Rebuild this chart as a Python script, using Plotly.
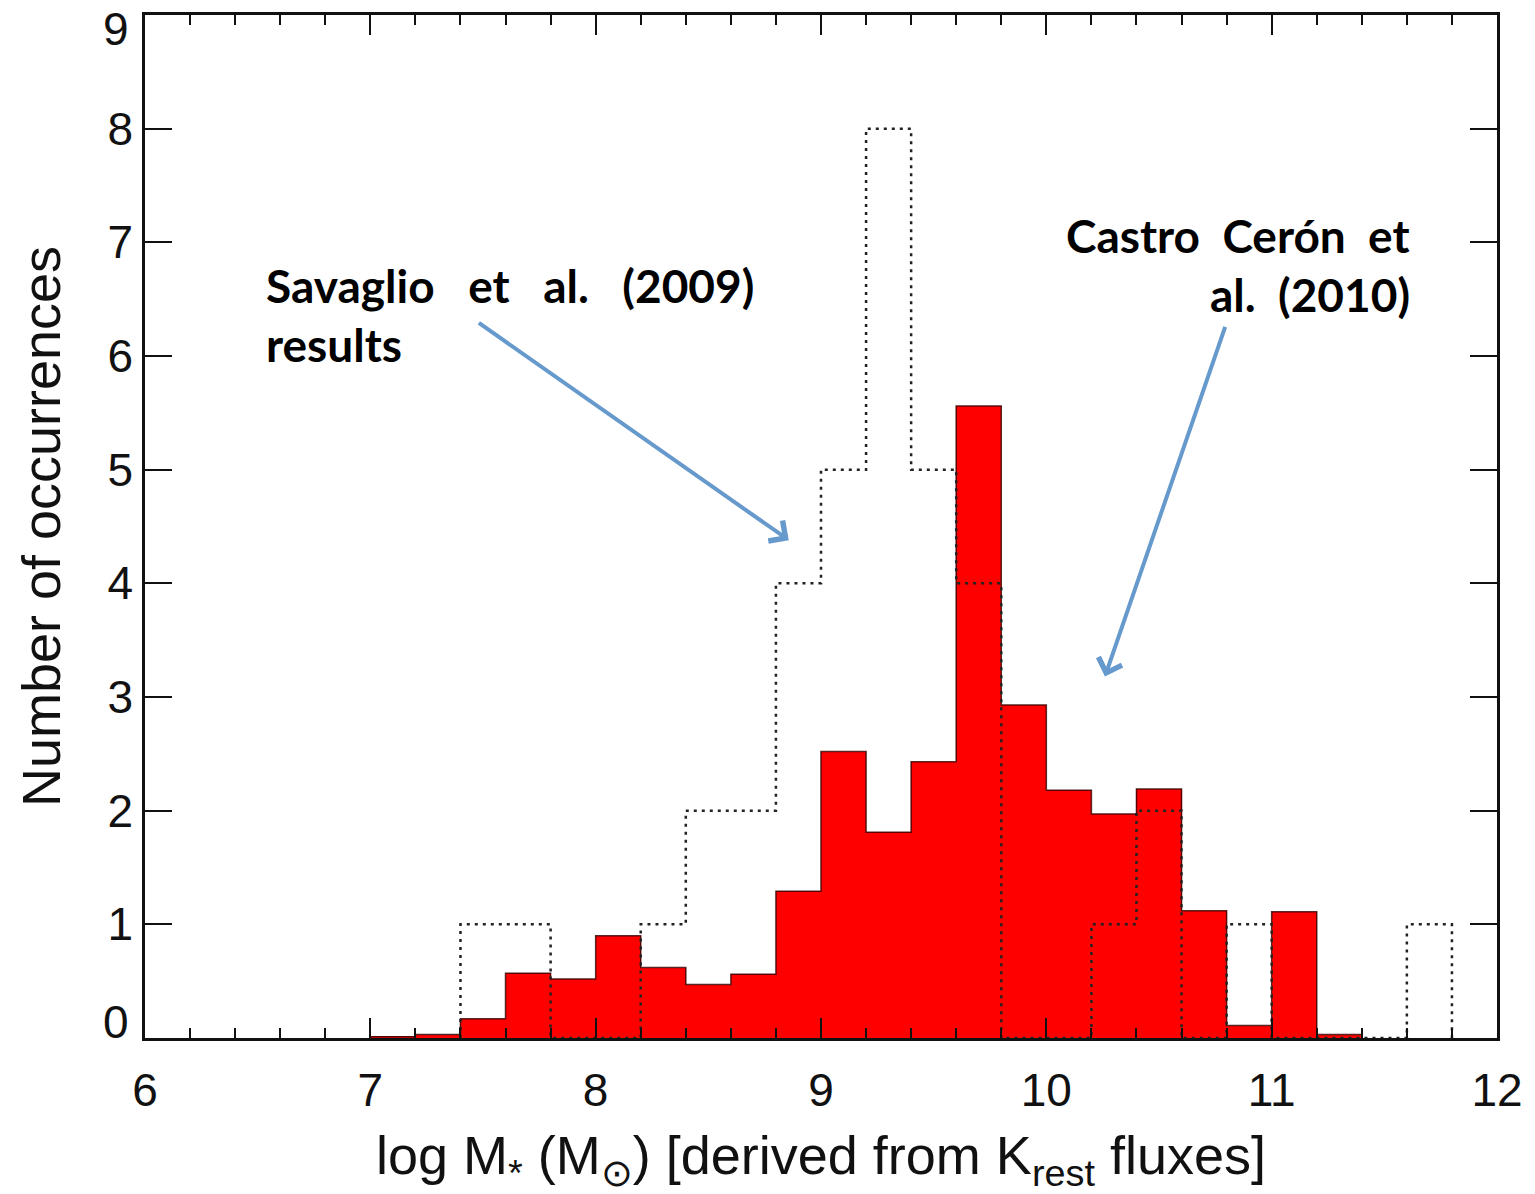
import numpy as np
import plotly.graph_objects as go

# Bin edges (left edges) for the 0.2-dex mass bins
bin_width = 0.2
red_left = [7.0, 7.2, 7.4, 7.6, 7.8, 8.0, 8.2, 8.4, 8.6, 8.8, 9.0, 9.2, 9.4,
            9.6, 9.8, 10.0, 10.2, 10.4, 10.6, 10.8, 11.0, 11.2]
# Castro Cerón et al. (2010) – filled histogram
red_counts = [0.01, 0.03, 0.17, 0.57, 0.52, 0.90, 0.62, 0.47, 0.56, 1.29, 2.52,
              1.81, 2.43, 5.56, 2.93, 2.18, 1.97, 2.19, 1.12, 0.11, 1.11, 0.03]

# Savaglio et al. (2009) – dotted histogram
sav_left = [7.4, 7.6, 7.8, 8.0, 8.2, 8.4, 8.6, 8.8, 9.0, 9.2, 9.4, 9.6, 9.8,
            10.0, 10.2, 10.4, 10.6, 10.8, 11.0, 11.2, 11.4, 11.6]
sav_counts = [1, 1, 0, 0, 1, 2, 2, 4, 5, 8, 5, 4, 0, 0, 1, 2, 0, 1, 0, 0, 0, 1]

x_ticks = [6, 7, 8, 9, 10, 11, 12]
y_ticks = [0, 1, 2, 3, 4, 5, 6, 7, 8, 9]


def step_outline(left, counts, width):
    """Closed step outline of a histogram (for line_shape='hv')."""
    left = np.asarray(left, float)
    counts = np.asarray(counts, float)
    xs = np.concatenate([[left[0]], left, [left[-1] + width, left[-1] + width]])
    ys = np.concatenate([[0.0], counts, [counts[-1], 0.0]])
    return xs, ys


red_centers = np.asarray(red_left) + bin_width / 2

fig = go.Figure()

fig.add_trace(go.Bar(
    x=red_centers, y=red_counts, width=bin_width,
    marker=dict(color="#ff0000", line=dict(width=0)),
    showlegend=False, hoverinfo="skip",
))

rx, ry = step_outline(red_left, red_counts, bin_width)
fig.add_trace(go.Scatter(
    x=rx, y=ry, mode="lines", line=dict(color="rgba(60,0,0,0.85)", width=1.5, shape="hv"),
    showlegend=False, hoverinfo="skip",
))

sx, sy = step_outline(sav_left, sav_counts, bin_width)
fig.add_trace(go.Scatter(
    x=sx, y=sy, mode="lines",
    line=dict(color="#222222", width=2.5, shape="hv", dash="3px,5px"),
    showlegend=False, hoverinfo="skip",
))

axis_font = dict(family="Liberation Sans, Arial, sans-serif", size=46, color="#111111")
title_font = dict(family="Liberation Sans Narrow, Liberation Sans, sans-serif", size=54, color="#111111")

# the end labels (0 and 9) are nudged inward so they stay clear of the frame corners
inner_ticks = y_ticks[1:-1]

fig.update_xaxes(
    range=[6, 12], tickvals=x_ticks, ticktext=[str(v) for v in x_ticks],
    ticks="inside", ticklen=20, tickwidth=2, tickcolor="#111111",
    minor=dict(dtick=0.2, ticks="inside", ticklen=10, tickwidth=2, tickcolor="#111111"),
    showline=True, linecolor="#111111", linewidth=2.5, mirror="allticks",
    showgrid=False, zeroline=False, tickfont=axis_font, ticklabelstandoff=10,
    title=dict(text="log M<sub>*</sub> (M<sub>⊙</sub>) [derived from K<sub>rest</sub> fluxes]",
               font=title_font, standoff=22),
)
fig.update_yaxes(
    range=[0, 9], tickvals=y_ticks, ticktext=[str(v) if v in inner_ticks else "" for v in y_ticks],
    ticks="inside", ticklen=27, tickwidth=2, tickcolor="#111111",
    showline=True, linecolor="#111111", linewidth=2.5, mirror="allticks",
    showgrid=False, zeroline=False, tickfont=axis_font,
    title=dict(text="Number of occurrences", font=title_font, standoff=30),
)

for v, shift in ((y_ticks[0], 16), (y_ticks[-1], -14)):
    fig.add_annotation(
        x=0, xref="paper", xanchor="right", xshift=-14, y=v, yref="y",
        yshift=shift, yanchor="middle", text=str(v), showarrow=False, font=axis_font,
    )

note_font = dict(family="Lato, DejaVu Sans, sans-serif", size=46, color="#000000", weight="bold")
arrow_color = "#6699cc"

annotations = [
    dict(x=6.53, y=6.62, text="Savaglio   et   al.   (2009)", xanchor="left", yanchor="middle"),
    dict(x=6.53, y=6.10, text="results", xanchor="left", yanchor="middle"),
    dict(x=11.624, y=7.06, text="Castro  Cerón  et", xanchor="right", yanchor="middle"),
    dict(x=11.624, y=6.54, text="al.  (2010)", xanchor="right", yanchor="middle"),
]
for a in annotations:
    fig.add_annotation(**a, xref="x", yref="y", showarrow=False, font=note_font)

# Arrows pointing at the two histograms
arrows = [((7.475, 6.30), (8.857, 4.38)), ((10.796, 6.27), (10.26, 3.18))]
for (tx, ty), (hx, hy) in arrows:
    fig.add_annotation(
        x=hx, y=hy, ax=tx, ay=ty, xref="x", yref="y", axref="x", ayref="y",
        text="", showarrow=True, arrowhead=4, arrowsize=1.2, arrowwidth=4,
        arrowcolor=arrow_color,
    )

fig.update_layout(
    width=1535, height=1194,
    margin=dict(l=145, r=35, t=15, b=156),
    paper_bgcolor="white", plot_bgcolor="white",
    bargap=0, barmode="overlay",
)

fig.write_html("out.html")
